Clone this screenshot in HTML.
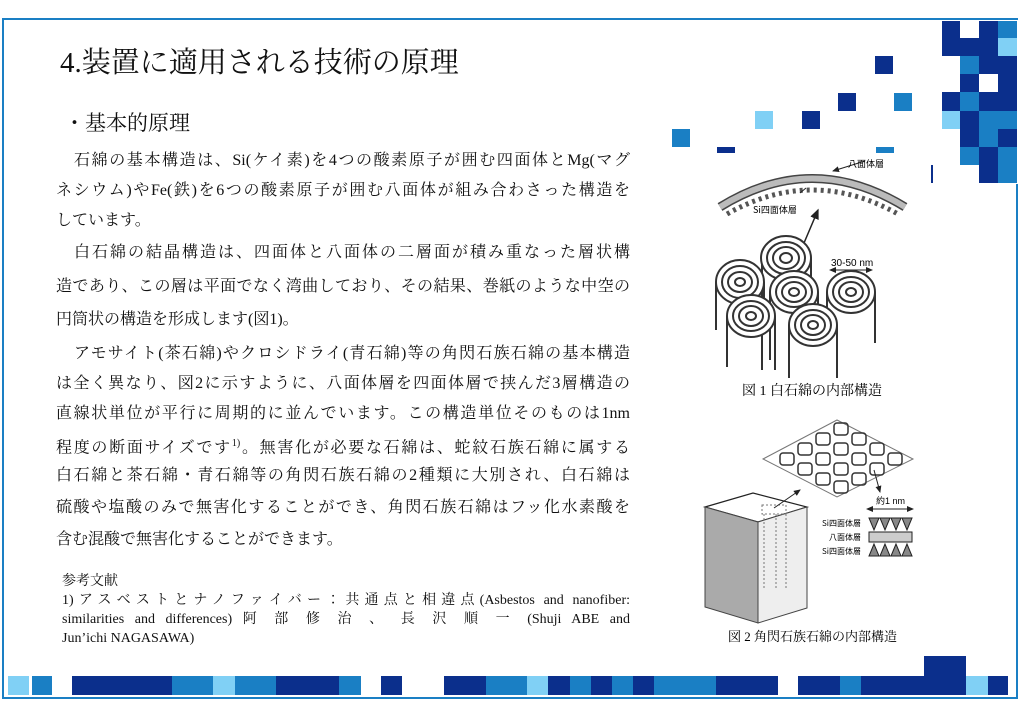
<!DOCTYPE html>
<html><head><meta charset="utf-8"><style>
body{margin:0;width:1024px;height:709px;background:#fff;position:relative;overflow:hidden;font-family:"Liberation Serif","Noto Serif CJK JP","Noto Sans CJK JP",serif;color:#111}
.a{position:absolute;white-space:nowrap}
.l{position:absolute;left:56px;width:574px;font-size:16px;line-height:24px;text-align:justify;text-align-last:justify;white-space:nowrap}
.r{position:absolute;left:62px;width:568px;font-size:14px;line-height:19px;text-align:justify;text-align-last:justify;white-space:nowrap}
.l.n,.r.n{text-align:left;text-align-last:left}
.b{position:absolute}
.D{background:#0b2f8c}.M{background:#1a7fc4}.L{background:#80d0f5}
</style></head><body>
<div class="b" style="left:2px;top:18px;width:1014px;height:677px;border:2px solid #1a7fc4;border-right:none"></div>
<div class="b" style="left:1016px;top:184px;width:2px;height:513px;background:#1a7fc4"></div>

<!-- top-right mosaic -->
<div class="b D" style="left:942px;top:21px;width:18px;height:35px"></div>
<div class="b D" style="left:960px;top:38px;width:19px;height:18px"></div>
<div class="b D" style="left:979px;top:21px;width:19px;height:35px"></div>
<div class="b M" style="left:998px;top:21px;width:19px;height:17px"></div>
<div class="b L" style="left:998px;top:38px;width:19px;height:18px"></div>
<div class="b M" style="left:960px;top:56px;width:19px;height:18px"></div>
<div class="b D" style="left:979px;top:56px;width:38px;height:18px"></div>
<div class="b D" style="left:960px;top:74px;width:19px;height:18px"></div>
<div class="b D" style="left:998px;top:74px;width:19px;height:18px"></div>
<div class="b D" style="left:942px;top:92px;width:18px;height:19px"></div>
<div class="b M" style="left:960px;top:92px;width:19px;height:19px"></div>
<div class="b D" style="left:979px;top:92px;width:38px;height:19px"></div>
<div class="b L" style="left:942px;top:111px;width:18px;height:18px"></div>
<div class="b D" style="left:960px;top:111px;width:19px;height:36px"></div>
<div class="b M" style="left:979px;top:111px;width:38px;height:18px"></div>
<div class="b M" style="left:979px;top:129px;width:19px;height:18px"></div>
<div class="b D" style="left:998px;top:129px;width:19px;height:18px"></div>
<div class="b M" style="left:960px;top:147px;width:19px;height:18px"></div>
<div class="b D" style="left:979px;top:147px;width:19px;height:36px"></div>
<div class="b M" style="left:998px;top:147px;width:19px;height:36px"></div>
<div class="b D" style="left:875px;top:56px;width:18px;height:18px"></div>
<div class="b D" style="left:838px;top:93px;width:18px;height:18px"></div>
<div class="b M" style="left:894px;top:93px;width:18px;height:18px"></div>
<div class="b L" style="left:755px;top:111px;width:18px;height:18px"></div>
<div class="b D" style="left:802px;top:111px;width:18px;height:18px"></div>
<div class="b M" style="left:672px;top:129px;width:18px;height:18px"></div>
<div class="b D" style="left:717px;top:147px;width:18px;height:6px"></div>
<div class="b M" style="left:876px;top:147px;width:18px;height:6px"></div>
<div class="b D" style="left:931px;top:165px;width:2px;height:18px"></div>

<!-- bottom mosaic -->
<div class="b L" style="left:8px;top:676px;width:21px;height:19px"></div>
<div class="b M" style="left:32px;top:676px;width:20px;height:19px"></div>
<div class="b D" style="left:72px;top:676px;width:100px;height:19px"></div>
<div class="b M" style="left:172px;top:676px;width:41px;height:19px"></div>
<div class="b L" style="left:213px;top:676px;width:22px;height:19px"></div>
<div class="b M" style="left:235px;top:676px;width:41px;height:19px"></div>
<div class="b D" style="left:276px;top:676px;width:63px;height:19px"></div>
<div class="b M" style="left:339px;top:676px;width:22px;height:19px"></div>
<div class="b D" style="left:381px;top:676px;width:21px;height:19px"></div>
<div class="b D" style="left:444px;top:676px;width:42px;height:19px"></div>
<div class="b M" style="left:486px;top:676px;width:41px;height:19px"></div>
<div class="b L" style="left:527px;top:676px;width:21px;height:19px"></div>
<div class="b D" style="left:548px;top:676px;width:22px;height:19px"></div>
<div class="b M" style="left:570px;top:676px;width:21px;height:19px"></div>
<div class="b D" style="left:591px;top:676px;width:21px;height:19px"></div>
<div class="b M" style="left:612px;top:676px;width:21px;height:19px"></div>
<div class="b D" style="left:633px;top:676px;width:21px;height:19px"></div>
<div class="b M" style="left:654px;top:676px;width:62px;height:19px"></div>
<div class="b D" style="left:716px;top:676px;width:62px;height:19px"></div>
<div class="b D" style="left:798px;top:676px;width:42px;height:19px"></div>
<div class="b M" style="left:840px;top:676px;width:21px;height:19px"></div>
<div class="b D" style="left:861px;top:676px;width:105px;height:19px"></div>
<div class="b D" style="left:924px;top:656px;width:42px;height:20px"></div>
<div class="b L" style="left:966px;top:676px;width:22px;height:19px"></div>
<div class="b D" style="left:988px;top:676px;width:20px;height:19px"></div>

<div class="a" style="left:60px;top:44px;font-size:29px;line-height:38px">4.装置に適用される技術の原理</div>
<div class="a" style="left:64px;top:109px;font-size:21px;line-height:28px">・基本的原理</div>

<div class="l" style="top:149px;left:74px;width:556px">石綿の基本構造は、Si(ケイ素)を4つの酸素原子が囲む四面体とMg(マグ</div>
<div class="l" style="top:179px">ネシウム)やFe(鉄)を6つの酸素原子が囲む八面体が組み合わさった構造を</div>
<div class="l n" style="top:209px">しています。</div>
<div class="l" style="top:241px;left:74px;width:556px">白石綿の結晶構造は、四面体と八面体の二層面が積み重なった層状構</div>
<div class="l" style="top:275px">造であり、この層は平面でなく湾曲しており、その結果、巻紙のような中空の</div>
<div class="l n" style="top:308px">円筒状の構造を形成します(図1)。</div>
<div class="l" style="top:342px;left:74px;width:556px">アモサイト(茶石綿)やクロシドライ(青石綿)等の角閃石族石綿の基本構造</div>
<div class="l" style="top:372px">は全く異なり、図2に示すように、八面体層を四面体層で挟んだ3層構造の</div>
<div class="l" style="top:402px">直線状単位が平行に周期的に並んでいます。この構造単位そのものは1nm</div>
<div class="l" style="top:432px">程度の断面サイズです<sup style="font-size:10px">1)</sup>。無害化が必要な石綿は、蛇紋石族石綿に属する</div>
<div class="l" style="top:464px">白石綿と茶石綿・青石綿等の角閃石族石綿の2種類に大別され、白石綿は</div>
<div class="l" style="top:496px">硫酸や塩酸のみで無害化することができ、角閃石族石綿はフッ化水素酸を</div>
<div class="l n" style="top:528px">含む混酸で無害化することができます。</div>

<div class="r n" style="top:572px">参考文献</div>
<div class="r" style="top:591px">1)アスベストとナノファイバー：共通点と相違点(Asbestos and nanofiber:</div>
<div class="r" style="top:610px">similarities and differences) 阿 部 修 治 、 長 沢 順 一 (Shuji ABE and</div>
<div class="r n" style="top:629px">Jun’ichi NAGASAWA)</div>

<svg class="b" style="left:0;top:0" width="1024" height="709">
<defs><marker id="ar" markerWidth="8" markerHeight="8" refX="6" refY="3" orient="auto"><path d="M0,0L7,3L0,6z" fill="#222"/></marker>
<marker id="ar2" markerWidth="8" markerHeight="8" refX="1" refY="3" orient="auto"><path d="M7,0L0,3L7,6z" fill="#222"/></marker></defs>
<path d="M720,207 Q812,150 905,207" fill="none" stroke="#444" stroke-width="9"/>
<path d="M720,207 Q812,150 905,207" fill="none" stroke="#bbb" stroke-width="6"/>
<path d="M727,214 Q812,166 898,214" fill="none" stroke="#555" stroke-width="5" stroke-dasharray="3,4"/>
<line x1="865" y1="161" x2="833" y2="171" stroke="#222" marker-end="url(#ar)"/>
<text x="848" y="167" font-size="9" font-family="Noto Sans CJK JP,sans-serif">八面体層</text>
<line x1="800" y1="193" x2="806" y2="188" stroke="#222"/>
<text x="753" y="213" font-size="9" font-family="Noto Sans CJK JP,sans-serif">Si四面体層</text>
<line x1="804" y1="243" x2="818" y2="210" stroke="#222" stroke-width="1.5" marker-end="url(#ar)"/>
<line x1="830" y1="270" x2="872" y2="270" stroke="#222" marker-end="url(#ar)" marker-start="url(#ar2)"/>
<text x="831" y="266" font-size="10" font-family="Liberation Sans,sans-serif">30-50 nm</text>
<g fill="#fff" stroke="#333" stroke-width="2">
<line x1="762" y1="258" x2="762" y2="370"/><line x1="811" y1="258" x2="811" y2="310"/>
<ellipse cx="786" cy="258" rx="25" ry="22"/><ellipse cx="786" cy="258" rx="19" ry="16" fill="none"/><ellipse cx="786" cy="258" rx="13" ry="11" fill="none"/><ellipse cx="786" cy="258" rx="6" ry="5" fill="none"/>
<line x1="716" y1="282" x2="716" y2="330"/><line x1="764" y1="282" x2="764" y2="320"/>
<ellipse cx="740" cy="282" rx="24" ry="22"/><ellipse cx="740" cy="282" rx="18" ry="16" fill="none"/><ellipse cx="740" cy="282" rx="12" ry="10" fill="none"/><ellipse cx="740" cy="282" rx="5" ry="4" fill="none"/>
<line x1="770" y1="292" x2="770" y2="360"/><line x1="818" y1="292" x2="818" y2="320"/>
<ellipse cx="794" cy="292" rx="24" ry="21"/><ellipse cx="794" cy="292" rx="18" ry="15" fill="none"/><ellipse cx="794" cy="292" rx="12" ry="10" fill="none"/><ellipse cx="794" cy="292" rx="5" ry="4" fill="none"/>
<line x1="827" y1="292" x2="827" y2="308"/><line x1="875" y1="292" x2="875" y2="343"/>
<ellipse cx="851" cy="292" rx="24" ry="21"/><ellipse cx="851" cy="292" rx="18" ry="15" fill="none"/><ellipse cx="851" cy="292" rx="12" ry="10" fill="none"/><ellipse cx="851" cy="292" rx="5" ry="4" fill="none"/>
<line x1="727" y1="316" x2="727" y2="367"/><line x1="775" y1="316" x2="775" y2="370"/>
<ellipse cx="751" cy="316" rx="24" ry="21"/><ellipse cx="751" cy="316" rx="18" ry="15" fill="none"/><ellipse cx="751" cy="316" rx="12" ry="10" fill="none"/><ellipse cx="751" cy="316" rx="5" ry="4" fill="none"/>
<line x1="789" y1="325" x2="789" y2="378"/><line x1="837" y1="325" x2="837" y2="378"/>
<ellipse cx="813" cy="325" rx="24" ry="21"/><ellipse cx="813" cy="325" rx="18" ry="15" fill="none"/><ellipse cx="813" cy="325" rx="12" ry="10" fill="none"/><ellipse cx="813" cy="325" rx="5" ry="4" fill="none"/>
</g>
<text x="742" y="395" font-size="14">図 1 白石綿の内部構造</text>
<polygon points="763,459 837,420 913,459 837,497" fill="#fff" stroke="#777"/>
<g fill="none" stroke="#333" stroke-width="1.5">
<rect x="780" y="453" width="14" height="12" rx="3"/><rect x="798" y="443" width="14" height="12" rx="3"/><rect x="798" y="463" width="14" height="12" rx="3"/>
<rect x="816" y="433" width="14" height="12" rx="3"/><rect x="816" y="453" width="14" height="12" rx="3"/><rect x="816" y="473" width="14" height="12" rx="3"/>
<rect x="834" y="423" width="14" height="12" rx="3"/><rect x="834" y="443" width="14" height="12" rx="3"/><rect x="834" y="463" width="14" height="12" rx="3"/><rect x="834" y="481" width="14" height="12" rx="3"/>
<rect x="852" y="433" width="14" height="12" rx="3"/><rect x="852" y="453" width="14" height="12" rx="3"/><rect x="852" y="473" width="14" height="12" rx="3"/>
<rect x="870" y="443" width="14" height="12" rx="3"/><rect x="870" y="463" width="14" height="12" rx="3"/><rect x="888" y="453" width="14" height="12" rx="3"/>
</g>
<polygon points="705,507 753,493 807,507 758,522" fill="#fff" stroke="#222" stroke-width="1.2"/>
<polygon points="705,507 758,522 758,623 705,607" fill="#aaa" stroke="#444"/>
<polygon points="758,522 807,507 807,608 758,623" fill="#eee" stroke="#444"/>
<g stroke="#777" stroke-dasharray="2,2" fill="none"><rect x="762" y="505" width="24" height="9"/><line x1="764" y1="514" x2="764" y2="590"/><line x1="776" y1="514" x2="776" y2="590"/><line x1="786" y1="514" x2="786" y2="590"/></g>
<line x1="774" y1="508" x2="800" y2="490" stroke="#222" marker-end="url(#ar)"/>
<line x1="874" y1="470" x2="880" y2="492" stroke="#222" marker-end="url(#ar)"/>
<line x1="867" y1="509" x2="913" y2="509" stroke="#222" marker-end="url(#ar)" marker-start="url(#ar2)"/>
<text x="876" y="504" font-size="9" font-family="Liberation Sans,sans-serif">約1 nm</text>
<g fill="#888" stroke="#222"><polygon points="869,518 879,518 874,530"/><polygon points="880,518 890,518 885,530"/><polygon points="891,518 901,518 896,530"/><polygon points="902,518 912,518 907,530"/>
<rect x="869" y="532" width="43" height="10" fill="#ccc"/>
<polygon points="874,544 869,556 879,556"/><polygon points="885,544 880,556 890,556"/><polygon points="896,544 891,556 901,556"/><polygon points="907,544 902,556 912,556"/></g>
<g font-size="8" font-family="Noto Sans CJK JP,sans-serif"><text x="822" y="526">Si四面体層</text><text x="829" y="540">八面体層</text><text x="822" y="554">Si四面体層</text></g>
<text x="728" y="641" font-size="13">図 2 角閃石族石綿の内部構造</text>
</svg>
</body></html>
